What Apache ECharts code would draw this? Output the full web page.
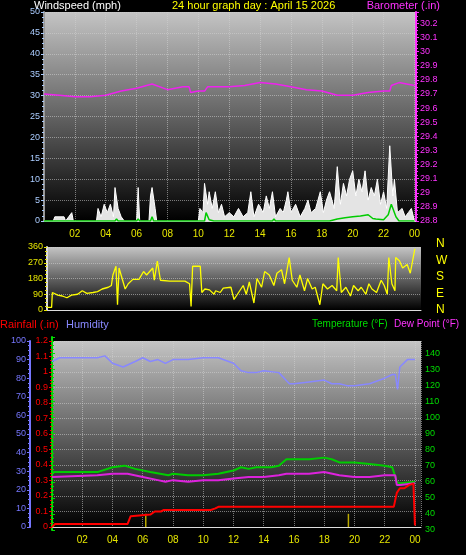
<!DOCTYPE html>
<html>
<head>
<meta charset="utf-8">
<script src="https://cdn.jsdelivr.net/npm/echarts@6/dist/echarts.min.js"></script>
<style>
  html, body { margin: 0; padding: 0; background: #000; }
  #chart { width: 466px; height: 555px; }
</style>
</head>
<body>
<div id="chart"></div>
<script>
// [hour, value] samples
const windGust = [[0,0],[0.6,0],[0.7,1],[1.3,1],[1.4,0],[1.6,1],[1.8,2],[1.9,0],[3.4,0],[3.5,3],[3.7,1],[3.9,4],[4.1,2],[4.3,4],[4.5,1],[4.6,8],[4.8,3],[5,1],[5.2,0],[6,0],[6.1,8],[6.2,0],[6.8,0],[6.9,6],[7.0,8],[7.2,3],[7.3,0],[10,0],[10.1,3],[10.3,2],[10.4,9],[10.6,4],[10.7,7],[10.9,3],[11.1,7],[11.3,2],[11.5,4],[11.7,1],[12,2],[12.3,1],[12.6,3],[12.9,1],[13.2,2],[13.4,7],[13.6,1],[13.9,4],[14.2,2],[14.4,6],[14.6,3],[14.8,7],[15,1],[15.3,3],[15.5,2],[15.7,5],[15.8,7],[16,2],[16.3,4],[16.6,1],[16.9,3],[17.1,5],[17.3,2],[17.6,3],[17.9,7],[18.1,2],[18.3,5],[18.5,7],[18.8,3],[19,13],[19.2,4],[19.4,9],[19.6,6],[19.8,10],[20,12],[20.2,6],[20.4,10],[20.6,7],[20.8,12],[21,5],[21.2,8],[21.4,6],[21.6,10],[21.8,4],[22,7],[22.2,3],[22.4,18],[22.6,6],[22.7,10],[22.9,2],[23.2,3],[23.4,1],[23.6,2],[23.8,3],[24,0]];
const windAvg = [[0,0],[4.6,0],[4.7,0.5],[4.8,0],[6,0],[6.1,0.5],[6.2,0],[6.9,0],[7.0,1],[7.1,0],[10.4,0],[10.5,2],[10.7,0.3],[11,0],[14.8,0],[14.9,0.5],[15,0],[18.2,0],[18.3,0.3],[18.5,0],[19,0.5],[19.5,0.8],[20,1],[20.5,1.2],[21,1.5],[21.3,0.6],[21.5,0.5],[22,0.3],[22.3,1.5],[22.5,4],[22.8,1],[23,0],[24,0]];
const baro = [[0,29.70],[1,29.69],[2,29.68],[3,29.68],[4,29.69],[5,29.72],[6,29.74],[7,29.77],[8,29.73],[9,29.75],[9.4,29.75],[9.5,29.71],[10,29.72],[10.4,29.72],[10.6,29.75],[11,29.75],[12,29.75],[13,29.76],[14,29.78],[15,29.77],[16,29.75],[17,29.73],[18,29.72],[19,29.69],[20,29.69],[21,29.71],[22,29.72],[22.4,29.72],[22.5,29.76],[23,29.78],[23.5,29.77],[24,29.76]];
const windDir = [[0,15],[0.3,15],[0.35,100],[0.7,85],[1,80],[1.3,70],[1.6,85],[2,90],[2.3,110],[2.6,95],[3,100],[3.3,105],[3.6,120],[4,130],[4.2,140],[4.3,200],[4.5,250],[4.6,30],[4.7,240],[4.9,180],[5.1,120],[5.3,150],[5.6,175],[6,175],[6.3,220],[6.5,200],[6.7,220],[6.9,240],[7.0,170],[7.2,280],[7.4,170],[8,165],[9,165],[9.3,150],[9.4,20],[9.5,250],[10,250],[10.1,100],[10.3,120],[10.6,115],[10.9,90],[11,110],[11.3,100],[11.5,125],[12,130],[12.2,60],[12.5,100],[12.8,140],[13,90],[13.2,160],[13.5,40],[13.7,180],[14,130],[14.2,220],[14.5,200],[14.8,140],[15,210],[15.3,230],[15.5,150],[15.8,300],[16,170],[16.3,130],[16.5,200],[16.8,110],[17,180],[17.3,120],[17.5,130],[17.8,30],[18,150],[18.3,120],[18.6,140],[18.9,110],[19,300],[19.2,100],[19.5,130],[19.8,80],[20,140],[20.3,110],[20.5,130],[20.8,90],[21,150],[21.2,120],[21.5,100],[21.8,170],[22,140],[22.2,90],[22.3,300],[22.5,150],[22.7,110],[22.75,300],[23,280],[23.2,240],[23.5,260],[23.7,210],[24,350]];
const humidity = [[0,89],[0.5,91],[3,91],[3.5,92],[4,88],[4.7,86],[5.5,89],[6,91],[6.5,89],[7,90],[7.5,88],[8,90],[9,90],[10,91],[11,91],[12,88],[12.5,84],[13,83],[13.5,83],[14,84],[15,83],[15.7,77],[16,77],[17,78],[18,79],[18.5,77],[19,77],[19.5,76],[20,76],[21,77],[22,80],[22.5,82],[22.7,82],[22.85,74],[23,86],[23.5,90],[24,90]];
const temperature = [[0,66],[3,66],[4,69],[4.8,70],[5.5,68],[6.5,66],[7.7,64],[8,65],[9,64],[10,64],[11,65],[12,67],[12.5,69],[13,68],[13.5,69],[14,69],[14.5,69],[15,70],[15.5,74],[16,74],[17,74],[18,75],[18.5,74],[19,72],[20,72],[21,71],[22,70],[22.5,69],[22.8,60],[23,59],[24,60]];
const dewPoint = [[0,63],[3,64],[4,65],[5,65],[6,63],[7,61],[7.5,60],[8,61],[9,60],[10,61],[11,61],[12,62],[13,63],[14,63],[15,64],[15.5,65],[17,65],[18,66],[19,64],[20,63],[21,63],[22,64],[22.7,64],[22.8,58],[23,58],[24,59]];
const rainfall = [[0,0],[0.2,0.02],[5,0.02],[5.2,0.07],[5.3,0.08],[6.5,0.08],[6.8,0.10],[7.2,0.10],[7.4,0.11],[10.5,0.11],[10.8,0.12],[11,0.13],[22.6,0.13],[22.8,0.22],[23,0.25],[23.3,0.25],[23.6,0.27],[23.9,0.28],[24,0.01]];
const rainRate = [[6.2,0.085],[19.6,0.085]];
const dirLabels = ['N', 'W', 'S', 'E', 'N'];

const chart = echarts.init(document.getElementById('chart'));

const bg = {
  type: 'linear', x: 0, y: 0, x2: 0, y2: 1,
  colorStops: [{ offset: 0, color: '#c4c4c4' }, { offset: 1, color: '#000' }]
};
const dotted = { show: true, lineStyle: { color: 'rgba(210,210,210,0.55)', type: 'dotted', width: 1 } };
const hourFmt = (v) => (v > 0 && v % 2 === 0) ? String(v % 24).padStart(2, '0') : '';
const font = 'Liberation Sans';

const xBase = (grid, max, labels) => ({
  type: 'value', gridIndex: grid, min: 0, max: max, interval: 2,
  axisLine: { show: true, lineStyle: { color: '#ddd' } },
  axisTick: { show: false },
  splitLine: dotted,
  axisLabel: { show: labels, color: '#e6e600', fontSize: 10, fontFamily: font, formatter: hourFmt, showMaxLabel: true }
});
const yBase = (grid, color, min, max, interval, pos, offset, fmt, showMax) => ({
  type: 'value', gridIndex: grid, min: min, max: max, interval: interval, position: pos, offset: offset,
  axisLine: { show: true, lineStyle: { color: color, width: 2 } },
  axisTick: { show: true, length: 3, lineStyle: { color: color } },
  minorTick: { show: true, length: 2, splitNumber: 4, lineStyle: { color: color } },
  splitLine: { show: false },
  axisLabel: { color: color, fontSize: 9, fontFamily: font, margin: 4, formatter: fmt, showMaxLabel: !!showMax }
});

const option = {
  backgroundColor: '#000',
  animation: false,
  graphic: [
    { type: 'text', left: 34, top: 0, style: { text: 'Windspeed (mph)', fill: '#fff', font: '11px ' + font } },
    { type: 'text', left: 172, top: 0, style: { text: '24 hour graph day : April 15 2026', fill: '#ffff00', font: '11px ' + font } },
    { type: 'text', right: 26, top: 0, style: { text: 'Barometer (.in)', fill: '#ff33ff', font: '11px ' + font } },
    ...dirLabels.map((t, i) => ({ type: 'text', left: 436, top: 238 + i * 16.5, style: { text: t, fill: '#ffff00', font: '12px ' + font } })),
    { type: 'text', left: 0, top: 319, style: { text: 'Rainfall (.in)', fill: '#ff0000', font: '11px ' + font } },
    { type: 'text', left: 66, top: 319, style: { text: 'Humidity', fill: '#8888ff', font: '11px ' + font } },
    { type: 'text', left: 312, top: 319, style: { text: 'Temperature (°F)', fill: '#00dd00', font: '10px ' + font } },
    { type: 'text', left: 394, top: 319, style: { text: 'Dew Point (°F)', fill: '#ff33ff', font: '10px ' + font } }
  ],
  grid: [
    { left: 44, right: 50, top: 12, bottom: 334, show: true, backgroundColor: bg, borderWidth: 0 },
    { left: 47, right: 45, top: 247, bottom: 245, show: true, backgroundColor: bg, borderWidth: 0 },
    { left: 52, right: 45, top: 341, bottom: 28, show: true, backgroundColor: bg, borderWidth: 0 },
    { left: 52, right: 45, top: 337, bottom: 25, show: false }
  ],
  xAxis: [
    xBase(0, 24.1, true),
    Object.assign(xBase(1, 24.4, false), { splitLine: { show: false } }),
    xBase(2, 24.4, true),
    Object.assign(xBase(3, 24.4, false), { show: false })
  ],
  yAxis: [
    Object.assign(yBase(0, '#aaccff', 0, 50, 5, 'left', 0, null, true), { splitLine: dotted, axisLine: { show: true, lineStyle: { color: '#999', width: 2 } } }),
    yBase(0, '#ff33ff', 28.8, 30.28, 0.1, 'right', 0, (v) => v.toFixed(1).replace('.0', '')),
    Object.assign(yBase(1, '#e6e600', 0, 360, 90, 'left', 0, null, true), { splitLine: dotted, axisLine: { show: true, lineStyle: { color: '#ddd', width: 2 } } }),
    Object.assign(yBase(2, '#ff0000', 0, 1.2, 0.1, 'left', 0, (v) => String(Math.round(v * 10) / 10), true), { splitLine: dotted, axisLine: { show: true, lineStyle: { color: '#ff5555', width: 2, type: 'dashed' } } }),
    yBase(2, '#7777ff', 0, 100, 10, 'left', 22, null, true),
    yBase(3, '#00dd00', 30, 150, 10, 'right', 0)
  ],
  series: [
    { type: 'line', xAxisIndex: 0, yAxisIndex: 0, data: windGust, symbol: 'none', lineStyle: { color: '#ffffff', width: 1 }, areaStyle: { color: '#e4e4e4', opacity: 1 } },
    { type: 'line', xAxisIndex: 0, yAxisIndex: 0, data: windAvg, symbol: 'none', lineStyle: { color: '#00cc00', width: 1.5 } },
    { type: 'line', xAxisIndex: 0, yAxisIndex: 1, data: baro, symbol: 'none', lineStyle: { color: '#ee22ee', width: 1.5 } },
    { type: 'line', xAxisIndex: 1, yAxisIndex: 2, data: windDir, symbol: 'none', lineStyle: { color: '#ffff00', width: 1.3 } },
    { type: 'line', xAxisIndex: 2, yAxisIndex: 4, data: humidity, symbol: 'none', lineStyle: { color: '#8888ff', width: 1.5 } },
    { type: 'line', xAxisIndex: 3, yAxisIndex: 5, data: temperature, symbol: 'none', lineStyle: { color: '#00cc00', width: 2 } },
    { type: 'line', xAxisIndex: 3, yAxisIndex: 5, data: dewPoint, symbol: 'none', lineStyle: { color: '#dd22dd', width: 2 } },
    { type: 'bar', xAxisIndex: 2, yAxisIndex: 3, data: rainRate, barWidth: 1.5, itemStyle: { color: '#bbaa00' } },
    { type: 'line', xAxisIndex: 2, yAxisIndex: 3, data: rainfall, symbol: 'none', lineStyle: { color: '#ff0000', width: 2 } }
  ]
};

chart.setOption(option);
</script>
</body>
</html>
